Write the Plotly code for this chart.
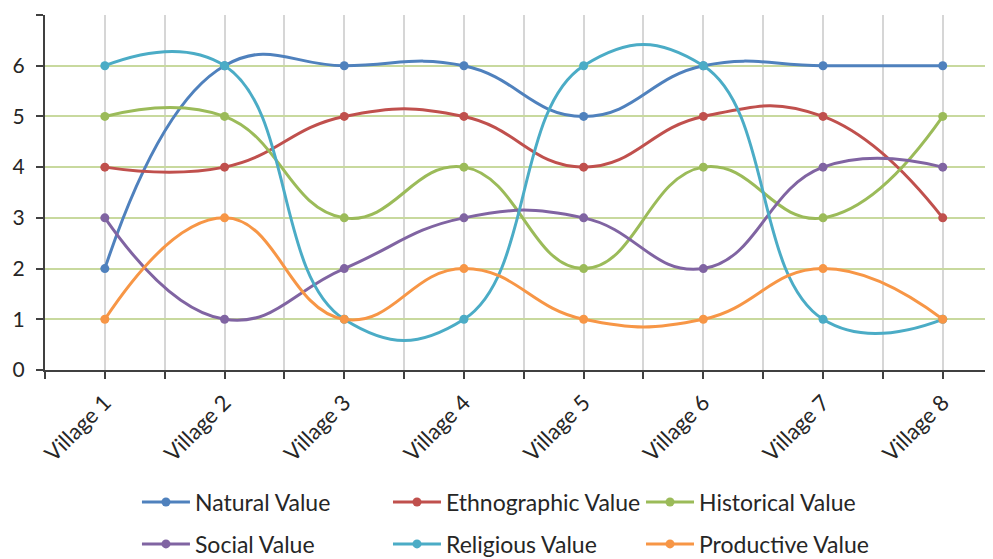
import plotly.graph_objects as go

villages = ["Village 1", "Village 2", "Village 3", "Village 4",
            "Village 5", "Village 6", "Village 7", "Village 8"]
natural = [2, 6, 6, 6, 5, 6, 6, 6]
ethnographic = [4, 4, 5, 5, 4, 5, 5, 3]
historical = [5, 5, 3, 4, 2, 4, 3, 5]
social = [3, 1, 2, 3, 3, 2, 4, 4]
religious = [6, 6, 1, 1, 6, 6, 1, 1]
productive = [1, 3, 1, 2, 1, 1, 2, 1]
y_ticks = [0, 1, 2, 3, 4, 5, 6, 7]
y_labels = ["0", "1", "2", "3", "4", "5", "6", ""]

x_pos = list(range(1, len(villages) + 1))

series = [
    ("Natural Value", natural, "#4F81BD"),
    ("Ethnographic Value", ethnographic, "#C0504D"),
    ("Historical Value", historical, "#9BBB59"),
    ("Social Value", social, "#8064A2"),
    ("Religious Value", religious, "#4BACC6"),
    ("Productive Value", productive, "#F79646"),
]

FONT = "Lato, 'Open Sans', sans-serif"
TEXT = "#262626"

# legend item placement (paper coords): three columns, two rows
leg_x = [0.0970, 0.3618, 0.6287]
leg_y = [-0.3720, -0.4900]

fig = go.Figure()
layout_legends = {}
for i, (name, vals, color) in enumerate(series):
    key = "legend" if i == 0 else f"legend{i + 1}"
    fig.add_trace(go.Scatter(
        x=x_pos, y=vals, name=name, mode="lines+markers",
        line=dict(color=color, width=3, shape="spline", smoothing=1.3),
        marker=dict(color=color, size=9),
        legend=key,
    ))
    layout_legends[key] = dict(
        x=leg_x[i % 3], y=leg_y[i // 3],
        xanchor="left", yanchor="middle",
        font=dict(family=FONT, size=23, color=TEXT),
        bgcolor="rgba(0,0,0,0)", itemwidth=48,
    )

# the page body adds an 8px margin, so the figure is 8px smaller than the window
fig.update_layout(
    width=985, height=551,
    margin=dict(l=37, r=0, t=7, b=189, autoexpand=False),
    paper_bgcolor="white", plot_bgcolor="white",
    font=dict(family=FONT, color=TEXT),
    showlegend=True,
    **layout_legends,
    xaxis=dict(
        range=[0.5, 8.42], automargin=False,
        tickvals=x_pos, ticktext=villages, tickangle=-45,
        tickfont=dict(family=FONT, size=22, color=TEXT),
        ticklabelstandoff=2,
        showgrid=True, gridcolor="#D6D6D6", gridwidth=1.5,
        ticks="outside", ticklen=7, tickcolor="#404040", tickwidth=1.5,
        showline=True, linecolor="#404040", linewidth=2,
        zeroline=False,
        minor=dict(tick0=0.5, dtick=1, showgrid=True, gridcolor="#D6D6D6",
                   gridwidth=1.5, ticks="outside", ticklen=7,
                   tickcolor="#404040", tickwidth=1.5),
    ),
    yaxis=dict(
        range=[0, 7], automargin=False,
        tickvals=y_ticks, ticktext=y_labels,
        tickfont=dict(family=FONT, size=21, color=TEXT),
        ticklabelstandoff=7,
        showgrid=True, gridcolor="#C8D99E", gridwidth=1.5,
        ticks="outside", ticklen=7, tickcolor="#404040", tickwidth=1.5,
        showline=True, linecolor="#404040", linewidth=2,
        zeroline=False,
    ),
)

fig.write_html("out.html")
